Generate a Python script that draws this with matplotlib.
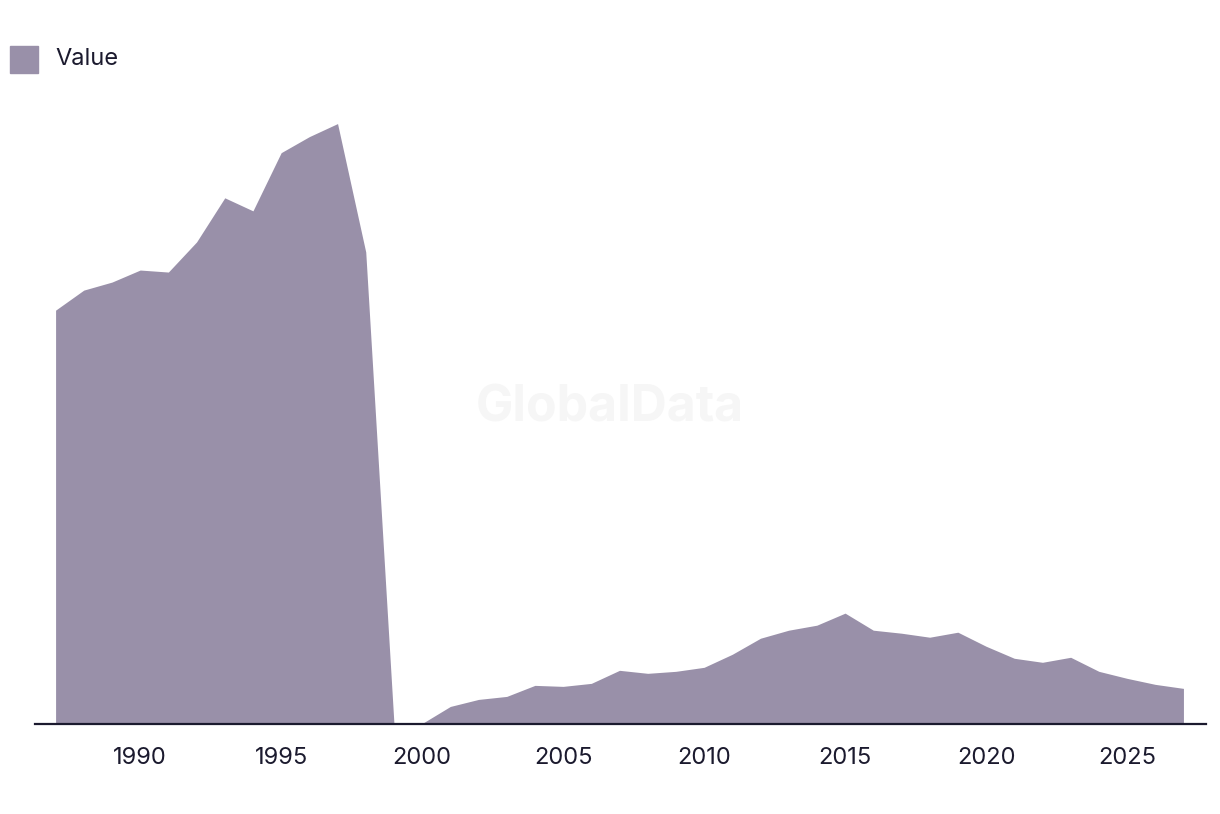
import matplotlib
matplotlib.use("Agg")
import matplotlib.pyplot as plt
from matplotlib.patches import Rectangle

# data (arbitrary units)
years = list(range(1987, 2028))
values = [412, 432, 440, 452, 450, 480, 524, 511, 569, 585, 598, 470,
          0, 0, 17, 24, 27, 38, 37, 40, 53, 50, 52, 56, 69, 85, 93, 98,
          110, 93, 90, 86, 91, 77, 65, 61, 66, 52, 45, 39, 35]
tick_years = [1990, 1995, 2000, 2005, 2010, 2015, 2020, 2025]
series_name = "Value"

fill_col = "#9990a9"
ink = "#1b1a2e"

plt.rcParams['font.family'] = ['Inter', 'DejaVu Sans']

fig = plt.figure(figsize=(12.2, 8.14), dpi=100)
ax = fig.add_axes([35/1220, 90.5/814, (1206-35)/1220, 624/814])

ax.fill_between(years, values, 0, color=fill_col, linewidth=0)
ax.set_xlim(1986.27, 2027.8)
ax.set_ylim(0, 622)

ax.set_xticks(tick_years)
ax.set_xticklabels([str(y) for y in tick_years])
ax.tick_params(axis='x', length=0, pad=17, labelsize=17, labelcolor=ink)
ax.set_yticks([])
for s in ['top', 'right', 'left']:
    ax.spines[s].set_visible(False)
ax.spines['bottom'].set_color(ink)
ax.spines['bottom'].set_linewidth(1.6)

# watermark
fig.text(0.5, 1-408/814, "GlobalData", ha='center', va='center', fontsize=36,
         fontweight='bold', color='#f6f6f6', zorder=0)

# legend
fig.patches.append(Rectangle((10/1220, 1-73/814), 28/1220, 27/814,
                             transform=fig.transFigure, color=fill_col))
fig.text(55/1220, 1-59/814, series_name, ha='left', va='center',
         fontsize=17, color=ink)

fig.savefig("out.png", dpi=100)
